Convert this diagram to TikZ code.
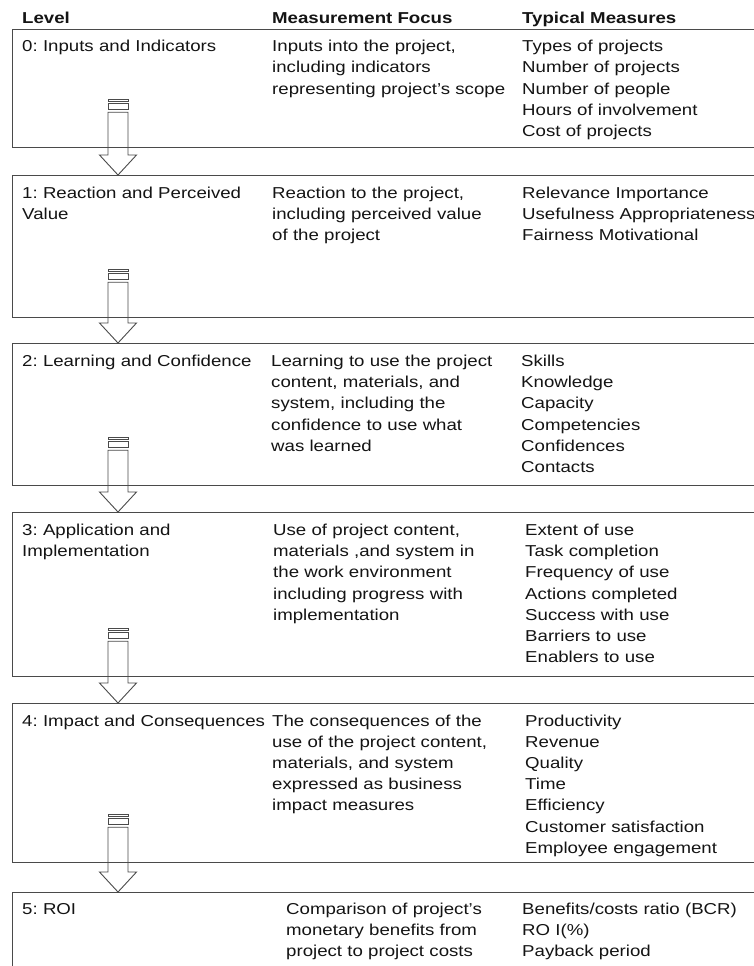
\documentclass[tikz,border=0pt]{standalone}
\usepackage{fontspec}
\setmainfont{Liberation Sans}[FakeStretch=1.18]
\usetikzlibrary{calc}
\frenchspacing

\definecolor{inkline}{HTML}{4A4A4A}
\definecolor{inktext}{HTML}{141414}

\tikzset{
  levelbox/.style={draw=inkline, line width=1.2pt, inner sep=0pt, anchor=north west},
  arrowline/.style={draw=inkline, line width=0.9pt, line join=miter},
  celltext/.style={anchor=base west, inner sep=0pt, text width=260pt, align=left,
    text=inktext, font=\fontsize{15.8}{21.2}\selectfont},
  headtext/.style={anchor=base west, inner sep=0pt, text=inktext,
    font=\fontsize{15.8}{21.2}\selectfont\bfseries},
}

% striped block arrow from the bottom of one level box into the top of the next
\newcommand\levelarrow[2]{%
  \path ($(#1.south west)+(106,0)$) coordinate (#1-b)
        ($(#2.north west)+(106,0)$) coordinate (#2-t);
  \draw[arrowline] ($(#1-b)+(-10,-49)$) rectangle ($(#1-b)+(10,-46.5)$);
  \draw[arrowline] ($(#1-b)+(-10,-44.5)$) rectangle ($(#1-b)+(10,-38.5)$);
  \draw[arrowline] ($(#1-b)+(-10,-36)$) -- ($(#2-t)+(-10,-20)$)
    -- ($(#2-t)+(-18.5,-20)$) -- (#2-t) -- ($(#2-t)+(18.5,-20)$)
    -- ($(#2-t)+(10,-20)$) -- ($(#1-b)+(10,-36)$) -- cycle;
}

\begin{document}
\begin{tikzpicture}[x=1pt, y=-1pt]
\clip (0,0) rectangle (754,966);
\fill[white] (0,0) rectangle (754,966);

% column headings
\node[headtext] (hLevel) at (22,24) {Level};
\node[headtext] (hFocus) at (272,24) {Measurement Focus};
\node[headtext] (hMeas)  at (522,24) {Typical Measures};

% level boxes (open to the right edge)
\node[levelbox, minimum width=780pt, minimum height=118pt] (L0) at (12,29) {};
\node[levelbox, minimum width=780pt, minimum height=142pt] (L1) at (12,175) {};
\node[levelbox, minimum width=780pt, minimum height=142pt] (L2) at (12,343) {};
\node[levelbox, minimum width=780pt, minimum height=164pt] (L3) at (12,512) {};
\node[levelbox, minimum width=780pt, minimum height=159pt] (L4) at (12,703) {};
\node[levelbox, minimum width=780pt, minimum height=120pt] (L5) at (12,892) {};

% level 0
\node[celltext] (t0a) at (22,51.7) {0: Inputs and Indicators};
\node[celltext] (t0b) at (272,51.7) {Inputs into the project,\\including indicators\\representing project’s scope};
\node[celltext] (t0c) at (522,51.7) {Types of projects\\Number of projects\\Number of people\\Hours of involvement\\Cost of projects};

% level 1
\node[celltext] (t1a) at (22,198) {1: Reaction and Perceived\\Value};
\node[celltext] (t1b) at (272,198) {Reaction to the project,\\including perceived value\\of the project};
\node[celltext, text width=300pt] (t1c) at (522,198) {Relevance Importance\\Usefulness Appropriateness\\Fairness Motivational};

% level 2
\node[celltext] (t2a) at (22,366.5) {2: Learning and Confidence};
\node[celltext] (t2b) at (271,366.5) {Learning to use the project\\content, materials, and\\system, including the\\confidence to use what\\was learned};
\node[celltext] (t2c) at (521,366.5) {Skills\\Knowledge\\Capacity\\Competencies\\Confidences\\Contacts};

% level 3
\node[celltext] (t3a) at (22,535.5) {3: Application and\\Implementation};
\node[celltext] (t3b) at (273,535.5) {Use of project content,\\materials ,and system in\\the work environment\\including progress with\\implementation};
\node[celltext] (t3c) at (525,535.5) {Extent of use\\Task completion\\Frequency of use\\Actions completed\\Success with use\\Barriers to use\\Enablers to use};

% level 4
\node[celltext] (t4a) at (22,726) {4: Impact and Consequences};
\node[celltext] (t4b) at (272,726) {The consequences of the\\use of the project content,\\materials, and system\\expressed as business\\impact measures};
\node[celltext] (t4c) at (525,726) {Productivity\\Revenue\\Quality\\Time\\Efficiency\\Customer satisfaction\\Employee engagement};

% level 5
\node[celltext] (t5a) at (22,914.5) {5: ROI};
\node[celltext] (t5b) at (286,914.5) {Comparison of project’s\\monetary benefits from\\project to project costs};
\node[celltext] (t5c) at (522,914.5) {Benefits/costs ratio (BCR)\\RO I(\%)\\Payback period};

% arrows between levels
\levelarrow{L0}{L1}
\levelarrow{L1}{L2}
\levelarrow{L2}{L3}
\levelarrow{L3}{L4}
\levelarrow{L4}{L5}
\end{tikzpicture}
\end{document}
